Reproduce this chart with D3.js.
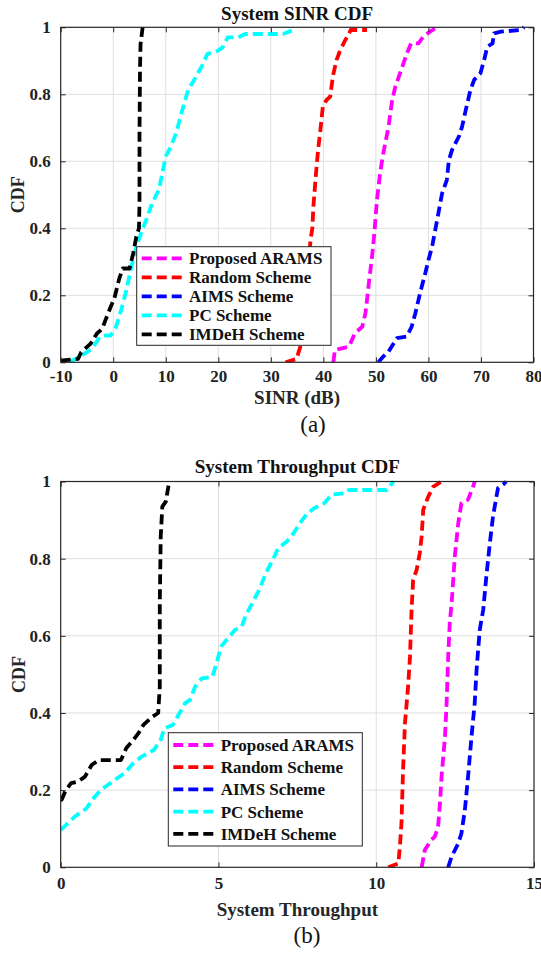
<!DOCTYPE html>
<html>
<head>
<meta charset="utf-8">
<script src="https://cdn.jsdelivr.net/npm/d3@7"></script>
<style>
  body { margin: 0; background: #fff; }
  svg { display: block; }
</style>
</head>
<body>
<script>
const width = 541, height = 954;

// series, in legend/plot order
const seriesNames = ["Proposed ARAMS", "Random Scheme", "AIMS Scheme", "PC Scheme", "IMDeH Scheme"];
const seriesColors = ["#ff00ff", "#ff0000", "#0000ff", "#00ffff", "#000000"];
const cdfTicks = [0, 0.2, 0.4, 0.6, 0.8, 1];

// (a) SINR CDF, [SINR dB, CDF]
const sinrTicks = [-10, 0, 10, 20, 30, 40, 50, 60, 70, 80];
const sinrArams = [[41.9,0],[42.2,0.037],[44.9,0.047],[46.0,0.087],[47.4,0.106],[48.0,0.146],[48.3,0.185],[48.8,0.256],[49.2,0.305],[49.7,0.385],[50.2,0.485],[50.8,0.564],[51.4,0.624],[52.4,0.703],[53.1,0.783],[53.7,0.823],[54.6,0.863],[55.9,0.922],[56.7,0.952],[58.1,0.952],[59.0,0.972],[60.3,0.987],[61.6,1.0]];
const sinrRandom = [[32.8,0],[34.9,0.01],[35.6,0.046],[36.3,0.15],[37.0,0.27],[37.6,0.37],[37.9,0.4],[38.1,0.465],[38.4,0.524],[38.7,0.584],[39.0,0.634],[39.5,0.703],[39.9,0.763],[40.6,0.783],[41.3,0.793],[41.8,0.853],[42.5,0.902],[43.1,0.927],[44.1,0.96],[44.7,0.975],[45.2,0.992],[48.3,0.992]];
const sinrAims = [[50.46,0],[51.4,0.017],[52.4,0.032],[54.0,0.072],[55.9,0.077],[56.8,0.106],[57.5,0.146],[58.4,0.206],[59.4,0.266],[60.0,0.305],[60.7,0.345],[61.3,0.395],[61.9,0.445],[62.6,0.504],[63.5,0.544],[63.9,0.604],[64.5,0.634],[65.8,0.674],[66.4,0.703],[67.1,0.753],[68.0,0.813],[68.7,0.843],[69.9,0.863],[70.6,0.902],[71.2,0.942],[72.2,0.952],[72.5,0.982],[73.8,0.987],[77.6,0.992],[78.2,1.0]];
const sinrPc = [[-8.4,0],[-6.4,0.016],[-4.1,0.04],[-2.5,0.076],[-1.4,0.08],[-0.5,0.08],[0.5,0.105],[1.5,0.155],[2.5,0.215],[3.45,0.285],[4.4,0.345],[5.4,0.39],[6.4,0.43],[7.4,0.475],[8.7,0.515],[10,0.615],[11,0.645],[12,0.685],[13,0.745],[14.3,0.815],[15.3,0.84],[16.9,0.885],[17.9,0.92],[19.9,0.93],[20.8,0.94],[21.8,0.97],[23.8,0.97],[25.1,0.98],[32.3,0.98],[34,0.99]];
const sinrImdeh = [[-9.7,0],[-9.6,0.006],[-6.7,0.01],[-6.1,0.03],[-4.3,0.056],[-3.1,0.086],[-2.1,0.1],[-1.5,0.125],[-0.5,0.165],[0.2,0.19],[1.15,0.25],[1.8,0.28],[3.1,0.28],[3.8,0.325],[4.4,0.375],[4.9,0.4],[5.0,0.48],[5.0,0.68],[5.1,0.88],[5.2,0.95],[5.6,1.0]];

// (b) throughput CDF, [throughput, CDF]
const tputTicks = [0, 5, 10, 15];
const tputArams = [[11.44,0],[11.54,0.045],[11.75,0.071],[11.86,0.08],[11.96,0.105],[12.02,0.166],[12.07,0.235],[12.18,0.339],[12.23,0.425],[12.28,0.546],[12.33,0.633],[12.39,0.685],[12.49,0.806],[12.6,0.892],[12.7,0.944],[12.91,0.953],[13.07,0.987],[13.12,1.0]];
const tputRandom = [[10.38,0],[10.7,0.01],[10.75,0.054],[10.8,0.114],[10.85,0.252],[10.91,0.373],[11.01,0.469],[11.07,0.546],[11.12,0.667],[11.17,0.745],[11.28,0.771],[11.38,0.814],[11.44,0.858],[11.49,0.927],[11.65,0.961],[11.81,0.987],[12.07,1.0]];
const tputAims = [[12.28,0],[12.39,0.028],[12.6,0.062],[12.7,0.088],[12.81,0.149],[12.91,0.235],[13.02,0.339],[13.12,0.425],[13.18,0.512],[13.28,0.615],[13.39,0.667],[13.49,0.754],[13.6,0.84],[13.7,0.909],[13.81,0.961],[13.86,0.983],[14.02,0.992],[14.12,1.0]];
const tputPc = [[0,0.097],[0.22,0.114],[0.44,0.131],[0.82,0.153],[1.04,0.179],[1.26,0.2],[1.64,0.222],[2.02,0.244],[2.3,0.27],[2.57,0.287],[2.95,0.304],[3.17,0.33],[3.28,0.36],[3.55,0.369],[3.77,0.4],[3.94,0.425],[4.1,0.434],[4.26,0.468],[4.48,0.49],[4.81,0.494],[4.97,0.538],[5.08,0.572],[5.3,0.594],[5.52,0.615],[5.74,0.624],[5.85,0.65],[6.07,0.685],[6.29,0.719],[6.5,0.762],[6.72,0.797],[6.89,0.827],[7.16,0.844],[7.38,0.866],[7.65,0.9],[7.82,0.918],[8.04,0.931],[8.36,0.944],[8.58,0.966],[9.02,0.97],[9.13,0.978],[10.33,0.978],[10.55,1.0]];
const tputImdeh = [[0,0.175],[0.03,0.175],[0.16,0.2],[0.33,0.218],[0.55,0.222],[0.77,0.235],[0.98,0.265],[1.2,0.278],[1.91,0.278],[2.08,0.309],[2.3,0.33],[2.46,0.347],[2.62,0.369],[2.9,0.39],[3.09,0.4],[3.14,0.468],[3.14,0.685],[3.17,0.857],[3.22,0.935],[3.33,0.948],[3.44,1.0]];

const serif = "'Times New Roman', 'Liberation Serif', 'DejaVu Serif', serif";
const ink = "#262626";

const svg = d3.select("body").append("svg")
    .attr("width", width)
    .attr("height", height)
    .attr("viewBox", [0, 0, width, height])
    .style("font-family", serif);

function drawPanel(p) {
  const x = d3.scaleLinear().domain(p.xDomain).range([p.left, p.right]);
  const y = d3.scaleLinear().domain([0, 1]).range([p.bottom, p.top]);
  const g = svg.append("g");

  // grid
  g.append("g").selectAll("line").data(p.xTicks.slice(1, -1)).join("line")
      .attr("x1", d => x(d)).attr("x2", d => x(d))
      .attr("y1", p.top).attr("y2", p.bottom)
      .attr("stroke", "#dfdfdf").attr("stroke-width", 1);
  g.append("g").selectAll("line").data(cdfTicks.slice(1, -1)).join("line")
      .attr("x1", p.left).attr("x2", p.right)
      .attr("y1", d => y(d)).attr("y2", d => y(d))
      .attr("stroke", "#dfdfdf").attr("stroke-width", 1);

  // curves
  const clipId = "clip-" + p.id;
  svg.append("clipPath").attr("id", clipId).append("rect")
      .attr("x", p.left).attr("y", p.top - 2)
      .attr("width", p.right - p.left).attr("height", p.bottom - p.top + 2);
  const line = d3.line().x(d => x(d[0])).y(d => y(d[1]));
  g.append("g").attr("clip-path", `url(#${clipId})`)
    .selectAll("path").data(p.series).join("path")
      .attr("d", line)
      .attr("fill", "none")
      .attr("stroke", (d, i) => seriesColors[i])
      .attr("stroke-width", 3.8)
      .attr("stroke-dasharray", "10,5")
      .attr("stroke-linejoin", "round");

  // axes, MATLAB style: inward ticks on all sides
  const fmt = d => String(d);
  const styleAxis = a => {
    a.select(".domain").remove();
    a.selectAll("line").attr("stroke", ink);
    a.selectAll("text")
      .attr("fill", "#222")
      .style("font-family", serif)
      .style("font-weight", "bold")
      .style("font-size", "17px");
  };
  g.append("g").attr("transform", `translate(0,${p.bottom})`)
    .call(d3.axisBottom(x).tickValues(p.xTicks).tickSize(-5).tickPadding(p.xPad).tickFormat(fmt))
    .call(styleAxis);
  g.append("g").attr("transform", `translate(0,${p.top})`)
    .call(d3.axisTop(x).tickValues(p.xTicks).tickSize(-5).tickFormat(""))
    .call(styleAxis);
  g.append("g").attr("transform", `translate(${p.left},0)`)
    .call(d3.axisLeft(y).tickValues(cdfTicks).tickSize(-5).tickPadding(10).tickFormat(fmt))
    .call(styleAxis);
  g.append("g").attr("transform", `translate(${p.right},0)`)
    .call(d3.axisRight(y).tickValues(cdfTicks).tickSize(-5).tickFormat(""))
    .call(styleAxis);

  g.append("rect")
      .attr("x", p.left).attr("y", p.top)
      .attr("width", p.right - p.left).attr("height", p.bottom - p.top)
      .attr("fill", "none").attr("stroke", ink).attr("stroke-width", 1.2);

  // titles
  const mid = (p.left + p.right) / 2;
  g.append("text").attr("x", mid).attr("y", p.titleY)
      .attr("text-anchor", "middle").attr("font-weight", "bold").attr("font-size", 19)
      .attr("fill", "#111").text(p.title);
  g.append("text").attr("x", mid).attr("y", p.xLabelY)
      .attr("text-anchor", "middle").attr("font-weight", "bold").attr("font-size", 19)
      .attr("fill", ink).text(p.xLabel);
  g.append("text")
      .attr("transform", `translate(${p.yLabelX},${(p.top + p.bottom) / 2}) rotate(-90)`)
      .attr("text-anchor", "middle").attr("font-weight", "bold").attr("font-size", 18)
      .attr("fill", ink).text("CDF");
  g.append("text").attr("x", p.capX).attr("y", p.capY)
      .attr("text-anchor", "middle").attr("font-size", 23)
      .attr("fill", "#111").text(p.caption);

  // legend
  const L = p.legend;
  const lg = g.append("g");
  lg.append("rect")
      .attr("x", L.x).attr("y", L.y).attr("width", L.w).attr("height", L.h)
      .attr("fill", "#fff").attr("stroke", ink).attr("stroke-width", 1);
  const row = lg.selectAll("g.row").data(seriesNames).join("g")
      .attr("class", "row")
      .attr("transform", (d, i) => `translate(0,${L.y0 + i * L.dy})`);
  row.append("line")
      .attr("x1", L.lx1).attr("x2", L.lx2)
      .attr("stroke", (d, i) => seriesColors[i])
      .attr("stroke-width", 3.8)
      .attr("stroke-dasharray", "10,5");
  row.append("text")
      .attr("x", L.tx).attr("dy", "0.35em")
      .attr("font-weight", "bold").attr("font-size", 17)
      .attr("fill", "#111").text(d => d);
}

drawPanel({
  id: "a",
  left: 60.7, right: 533.5, top: 27.3, bottom: 362.3,
  xDomain: [-10, 80], xTicks: sinrTicks, xPad: 8,
  series: [sinrArams, sinrRandom, sinrAims, sinrPc, sinrImdeh],
  title: "System SINR CDF", titleY: 20,
  xLabel: "SINR (dB)", xLabelY: 404,
  yLabelX: 24,
  caption: "(a)", capX: 313, capY: 432,
  legend: {x: 136.7, y: 246.7, w: 194.3, h: 98.6, y0: 258.3, dy: 19, lx1: 141.7, lx2: 185, tx: 189}
});

drawPanel({
  id: "b",
  left: 60.7, right: 534, top: 481.5, bottom: 867.3,
  xDomain: [0, 15], xTicks: tputTicks, xPad: 10,
  series: [tputArams, tputRandom, tputAims, tputPc, tputImdeh],
  title: "System Throughput CDF", titleY: 473.3,
  xLabel: "System Throughput", xLabelY: 916,
  yLabelX: 25,
  caption: "(b)", capX: 307, capY: 943,
  legend: {x: 168.3, y: 732.7, w: 194, h: 113.3, y0: 745, dy: 22.2, lx1: 173.3, lx2: 216.7, tx: 220.7}
});
</script>
</body>
</html>
